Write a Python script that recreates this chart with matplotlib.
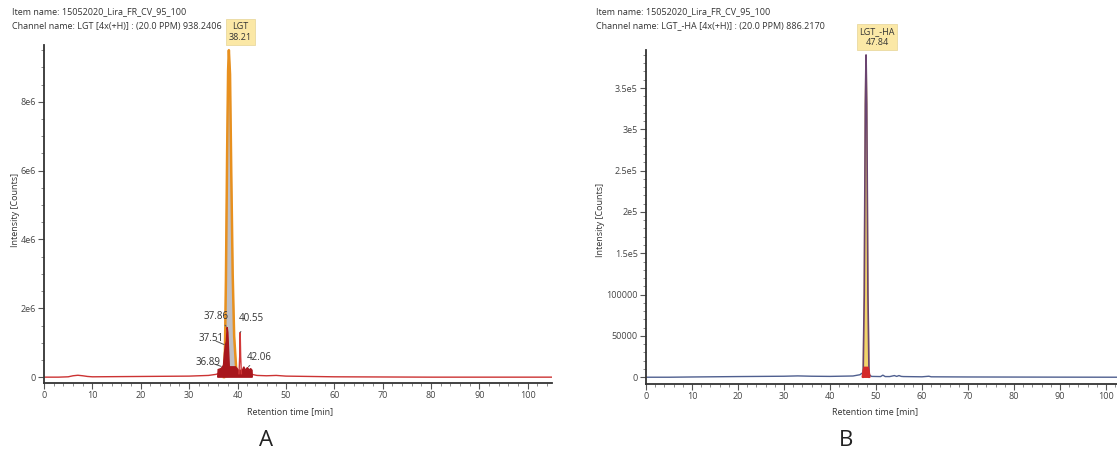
import matplotlib
matplotlib.use("Agg")
import matplotlib.pyplot as plt
from matplotlib.ticker import MultipleLocator, AutoMinorLocator

plt.rcParams['font.family'] = ['Open Sans', 'DejaVu Sans']

# ---------------- Panel A data (intensity in counts) ----------------
A_base_t = [0, 3, 5, 6, 7, 8, 9, 10, 20, 30, 34, 35.5, 36, 43, 44, 46, 48, 50, 60, 80, 105]
A_base_i = [0, 0, 10000, 40000, 55000, 40000, 20000, 10000, 20000, 30000, 50000, 80000, 100000,
            80000, 50000, 40000, 50000, 30000, 10000, 0, 0]

A_peak_t = [37.2, 37.4, 37.6, 37.85, 38.05, 38.21, 38.45, 38.7, 39.0, 39.3, 39.7, 40.0]
A_peak_i = [0, 800000, 2800000, 6500000, 8900000, 9500000, 8800000, 6000000, 3000000, 1200000,
            300000, 50000]

A_red_t = [35.9, 36.0, 36.6, 36.89, 37.1, 37.3, 37.51, 37.7, 37.86, 38.0, 38.3, 39.6, 39.9, 40.2,
           41.0, 41.3, 41.6, 42.06, 42.4, 42.7, 43.0, 43.05]
A_red_i = [0, 220000, 250000, 300000, 350000, 700000, 930000, 1050000, 1450000, 1300000, 300000,
           300000, 250000, 200000, 200000, 300000, 200000, 280000, 200000, 250000, 200000, 0]

A_spike_t = [40.3, 40.45, 40.55, 40.65, 40.8]
A_spike_i = [100000, 600000, 1300000, 600000, 100000]

A_labels = ["37.86", "37.51", "36.89", "40.55", "42.06"]
A_label_rt = [37.86, 37.51, 36.89, 40.55, 42.06]
A_label_int = [1450000, 930000, 300000, 1300000, 280000]

A_yticks = [0, 2e6, 4e6, 6e6, 8e6]
A_yticklabels = ["0", "2e6", "4e6", "6e6", "8e6"]

# ---------------- Panel B data ----------------
B_base_t = [0, 5, 10, 20, 30, 33, 36, 40, 45, 46.5, 47.0, 48.6, 49, 51, 51.5, 52, 53, 54, 54.5,
            55, 55.5, 56, 60, 61.5, 62, 70, 80, 90, 103]
B_base_i = [0, 0, 300, 800, 1200, 1600, 1200, 1000, 1500, 3000, 5000, 3000, 1000, 800, 2500, 800,
            800, 2000, 1000, 2000, 1000, 800, 500, 1200, 500, 300, 200, 100, 0]

B_peak_t = [47.2, 47.45, 47.68, 47.84, 48.0, 48.25, 48.5]
B_peak_i = [0, 100000, 330000, 390000, 330000, 100000, 0]

B_red_t = [47.0, 47.2, 47.4, 48.3, 48.5, 48.7]
B_red_i = [0, 8000, 12000, 12000, 8000, 0]

B_yticks = [0, 50000, 100000, 150000, 200000, 250000, 300000, 350000]
B_yticklabels = ["0", "50000", "100000", "1.5e5", "2e5", "2.5e5", "3e5", "3.5e5"]

xticks = [0, 10, 20, 30, 40, 50, 60, 70, 80, 90, 100]

W, H = 1117, 466
fig = plt.figure(figsize=(W / 100, H / 100), dpi=100)

def px_axes(l, r, t, b):
    return fig.add_axes([l / W, 1 - b / H, (r - l) / W, (b - t) / H])

def style(ax):
    for s in ['top', 'right']:
        ax.spines[s].set_visible(False)
    for s in ['left', 'bottom']:
        ax.spines[s].set_color('#333333')
        ax.spines[s].set_linewidth(1.3)
    ax.tick_params(axis='both', which='major', length=4, width=0.8, color='#555555',
                   labelsize=6.5, labelcolor='#444444', pad=2)
    ax.tick_params(axis='both', which='minor', length=2, width=0.6, color='#777777')
    ax.set_xticks(xticks)
    ax.xaxis.set_minor_locator(AutoMinorLocator(5))

TXT = '#333333'

# ---------------- Panel A ----------------
axA = px_axes(44, 552, 45, 383)
axA.set_xlim(0, 105)
axA.set_ylim(-170000, 9650000)
style(axA)
axA.set_yticks(A_yticks)
axA.set_yticklabels(A_yticklabels)
axA.yaxis.set_minor_locator(MultipleLocator(500000))

axA.plot(A_base_t, A_base_i, color='#cc3333', lw=1.0, zorder=2)
axA.fill(A_peak_t, A_peak_i, color='#bfbfc4', zorder=3)
axA.plot(A_peak_t, A_peak_i, color='#e8901e', lw=1.8, zorder=4)
axA.fill(A_red_t, A_red_i, color='#a8161c', zorder=5)
axA.plot(A_spike_t, A_spike_i, color='#d23a3a', lw=1.0, zorder=5)

offsets = [(-2.2, 300000), (-3.0, 180000), (-2.9, 140000), (2.3, 390000), (2.4, 300000)]
for lab, rt, it, (dx, dy) in zip(A_labels, A_label_rt, A_label_int, offsets):
    axA.annotate(lab, xy=(rt, it), xytext=(rt + dx, it + dy), fontsize=7, color=TXT,
                 ha='center', va='center', zorder=6,
                 arrowprops=dict(arrowstyle='-', color='#555555', lw=0.7, shrinkA=4, shrinkB=1))

axA.annotate("LGT\n38.21", xy=(38.21, 9500000), xycoords='data', xytext=(240.5, H - 32),
             textcoords='figure pixels', fontsize=6.5, color=TXT, ha='center', va='center',
             linespacing=1.3, annotation_clip=False,
             bbox=dict(boxstyle='square,pad=0.3', fc='#fbe8a6', ec='#ead9a0', lw=0.6))

fig.text(12 / W, 1 - 12 / H, "Item name: 15052020_Lira_FR_CV_95_100", fontsize=6.5, color=TXT,
         ha='left', va='center')
fig.text(12 / W, 1 - 26 / H, "Channel name: LGT [4x(+H)] : (20.0 PPM) 938.2406", fontsize=6.5,
         color=TXT, ha='left', va='center')
fig.text(16 / W, 1 - 210 / H, "Intensity [Counts]", fontsize=6.5, color=TXT, rotation=90,
         ha='center', va='center')
fig.text(290 / W, 1 - 412 / H, "Retention time [min]", fontsize=6.5, color=TXT,
         ha='center', va='center')
fig.text(266 / W, 1 - 441 / H, "A", fontsize=16, color='#222222', ha='center', va='center')

# ---------------- Panel B ----------------
axB = px_axes(646, 1117, 50, 384)
axB.set_xlim(0, 102.4)
axB.set_ylim(-8200, 396000)
style(axB)
axB.set_yticks(B_yticks)
axB.set_yticklabels(B_yticklabels)
axB.yaxis.set_minor_locator(AutoMinorLocator(5))

axB.plot(B_base_t, B_base_i, color='#4f5f8f', lw=1.0, zorder=2)
axB.fill(B_peak_t, B_peak_i, color='#f2d46a', zorder=3)
axB.plot(B_peak_t, B_peak_i, color='#6a4470', lw=1.2, zorder=4)
axB.fill(B_red_t, B_red_i, color='#d42a2a', zorder=5)

axB.annotate("LGT_-HA\n47.84", xy=(47.84, 390000), xycoords='data', xytext=(877, H - 37),
             textcoords='figure pixels', fontsize=6.5, color=TXT, ha='center', va='center',
             linespacing=1.3, annotation_clip=False,
             bbox=dict(boxstyle='square,pad=0.3', fc='#fbe8a6', ec='#ead9a0', lw=0.6))

fig.text(596 / W, 1 - 12 / H, "Item name: 15052020_Lira_FR_CV_95_100", fontsize=6.5, color=TXT,
         ha='left', va='center')
fig.text(596 / W, 1 - 26 / H, "Channel name: LGT_-HA [4x(+H)] : (20.0 PPM) 886.2170",
         fontsize=6.5, color=TXT, ha='left', va='center')
fig.text(600 / W, 1 - 220 / H, "Intensity [Counts]", fontsize=6.5, color=TXT, rotation=90,
         ha='center', va='center')
fig.text(875 / W, 1 - 412 / H, "Retention time [min]", fontsize=6.5, color=TXT,
         ha='center', va='center')
fig.text(846 / W, 1 - 441 / H, "B", fontsize=16, color='#222222', ha='center', va='center')

fig.savefig("out.png", dpi=100, facecolor='white')
